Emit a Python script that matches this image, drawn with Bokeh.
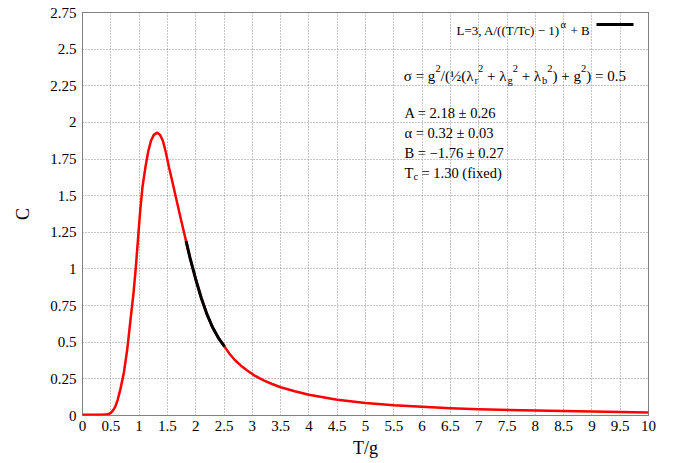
from bokeh.plotting import figure
from bokeh.models import Range1d, FixedTicker, Label
from bokeh.embed import file_html
from bokeh.resources import INLINE

# ---- data ----
T_values = [0.0, 0.1, 0.2, 0.3, 0.4, 0.46, 0.5, 0.54, 0.58, 0.62, 0.67, 0.73, 0.79, 0.85,
            0.9, 0.94, 0.98, 1.02, 1.06, 1.11, 1.16, 1.21, 1.26, 1.32, 1.37, 1.42, 1.47,
            1.53, 1.6, 1.67, 1.75, 1.83, 1.9, 2.0, 2.1, 2.2, 2.3, 2.4, 2.51, 2.6, 2.7,
            2.8, 2.91, 3.05, 3.2, 3.35, 3.5, 3.75, 4.0, 4.5, 5.0, 5.5, 6.0, 6.5, 7.0,
            8.0, 9.0, 10.0]
C_values = [0.005, 0.005, 0.005, 0.005, 0.006, 0.01, 0.018, 0.035, 0.06, 0.105, 0.18, 0.29,
            0.45, 0.66, 0.83, 1.0, 1.2, 1.40, 1.56, 1.69, 1.80, 1.875, 1.915, 1.93, 1.915,
            1.875, 1.80, 1.69, 1.575, 1.455, 1.32, 1.19, 1.075, 0.93, 0.80, 0.69, 0.60,
            0.53, 0.47, 0.42, 0.375, 0.34, 0.307, 0.27, 0.24, 0.215, 0.193, 0.165, 0.141,
            0.107, 0.086, 0.07, 0.059, 0.05, 0.043, 0.034, 0.027, 0.02]

fit_T = [1.83, 1.9, 2.0, 2.1, 2.2, 2.3, 2.4, 2.51]
fit_C = [1.19, 1.075, 0.93, 0.80, 0.69, 0.60, 0.53, 0.47]

x_ticks = [0, 0.5, 1, 1.5, 2, 2.5, 3, 3.5, 4, 4.5, 5, 5.5, 6, 6.5, 7, 7.5, 8, 8.5, 9, 9.5, 10]
x_tick_labels = ["0", "0.5", "1", "1.5", "2", "2.5", "3", "3.5", "4", "4.5", "5", "5.5",
                 "6", "6.5", "7", "7.5", "8", "8.5", "9", "9.5", "10"]
y_ticks = [0, 0.25, 0.5, 0.75, 1, 1.25, 1.5, 1.75, 2, 2.25, 2.5, 2.75]
y_tick_labels = ["0", "0.25", "0.5", "0.75", "1", "1.25", "1.5", "1.75", "2", "2.25", "2.5", "2.75"]

fit_params = ["A = 2.18 ± 0.26", "α = 0.32 ± 0.03", "B = −1.76 ± 0.27"]

# ---- layout ----
W, H = 679, 463
FL, FR, FT, FB = 82, 648, 12, 415
XMIN, XMAX, YMIN, YMAX = 0, 10, 0, 2.75

p = figure(width=W, height=H, x_range=Range1d(XMIN, XMAX), y_range=Range1d(YMIN, YMAX),
           output_backend="svg", toolbar_location=None,
           min_border_left=FL, min_border_right=W - FR, min_border_top=FT,
           min_border_bottom=H - FB)
p.background_fill_color = "white"
p.border_fill_color = "white"
p.outline_line_color = "black"
p.outline_line_dash = "1 1"
p.outline_line_width = 1

SERIF = "Liberation Serif"
for ax in (p.xaxis[0], p.yaxis[0]):
    ax.axis_line_color = None
    ax.major_tick_line_color = None
    ax.minor_tick_line_color = None
    ax.major_tick_out = 0
    ax.major_tick_in = 0
    ax.major_label_text_font = SERIF
    ax.major_label_text_font_size = "15px"
    ax.major_label_text_color = "black"
    ax.axis_label_text_font = SERIF
    ax.axis_label_text_font_style = "normal"
    ax.axis_label_text_font_size = "18px"
    ax.axis_label_text_color = "black"

p.xaxis.ticker = FixedTicker(ticks=x_ticks)
p.yaxis.ticker = FixedTicker(ticks=y_ticks)
p.xaxis.major_label_overrides = {float(t): l for t, l in zip(x_ticks, x_tick_labels)}
p.yaxis.major_label_overrides = {float(t): l for t, l in zip(y_ticks, y_tick_labels)}
p.xaxis.major_label_standoff = 5
p.yaxis.major_label_standoff = 6
p.xaxis.axis_label = "T/g"
p.yaxis.axis_label = "C"
p.xaxis.axis_label_standoff = 4
p.yaxis.axis_label_standoff = 14

p.xgrid.ticker = FixedTicker(ticks=x_ticks)
p.ygrid.ticker = FixedTicker(ticks=y_ticks)
for g in (p.xgrid[0], p.ygrid[0]):
    g.grid_line_color = "#8c8c8c"
    g.grid_line_dash = "1 2"
    g.grid_line_width = 1

# ---- curves ----
p.line(T_values, C_values, line_color="#ff0000", line_width=2.5, line_join="round")
p.line(fit_T, fit_C, line_color="black", line_width=3, line_join="round")


def to_data(px, py):
    x = XMIN + (px - FL) / (FR - FL) * (XMAX - XMIN)
    y = YMIN + (FB - py) / (FB - FT) * (YMAX - YMIN)
    return x, y


def put(text, px, py, size):
    x, y = to_data(px, py)
    p.add_layout(Label(x=x, y=y, text=text, text_font=SERIF, text_font_size=size,
                       text_color="black", text_baseline="alphabetic", text_align="left"))


# approximate Times advance widths (em) used to flow mixed-size text runs
ADV = {"σ": .55, "λ": .55, "=": .564, "+": .564, " ": .25, "g": .5, "b": .5, "r": .333,
       "/": .278, "(": .333, ")": .333, "½": .75, ".": .25, "0": .5, "2": .5, "5": .5}


def flow(pieces, px, base, main_px, small_px, sup_dy, sub_dy):
    x = px
    for text, kind in pieces:
        size = main_px if kind == "n" else small_px
        y = base if kind == "n" else (base - sup_dy if kind == "sup" else base + sub_dy)
        stripped = text.lstrip(" ")
        x += (len(text) - len(stripped)) * ADV[" "] * size
        put(stripped, x, y, f"{size}px")
        x += sum(ADV.get(ch, .5) for ch in stripped) * size


# legend entry (text + key line)
put("L=3, A/((T/Tc) − 1)", 456, 29.5, "13px")
put("α", 560, 23.5, "10.5px")
put("+ B", 570, 29.5, "13px")
kx0, ky = to_data(596, 24)
kx1, _ = to_data(633, 24)
p.line([kx0, kx1], [ky, ky], line_color="black", line_width=3)

# sigma line
sigma_pieces = [("σ = g", "n"), ("2", "sup"), ("/(½(λ", "n"), ("r", "sub"), ("2", "sup"),
                (" + λ", "n"), ("g", "sub"), ("2", "sup"), (" + λ", "n"), ("b", "sub"),
                ("2", "sup"), (") + g", "n"), ("2", "sup"), (") = 0.5", "n")]
flow(sigma_pieces, 403.3, 75.5, 15, 10.5, 8, 4)

# fit parameters
M, S = "14.5px", "10.5px"
for i, t in enumerate(fit_params):
    put(t, 404, 112 + 20 * i, M)
put("T", 404, 172, M)
put("c", 413, 176, S)
put("= 1.30 (fixed)", 421, 172, M)

open("out.html", "w").write(file_html(p, INLINE))
